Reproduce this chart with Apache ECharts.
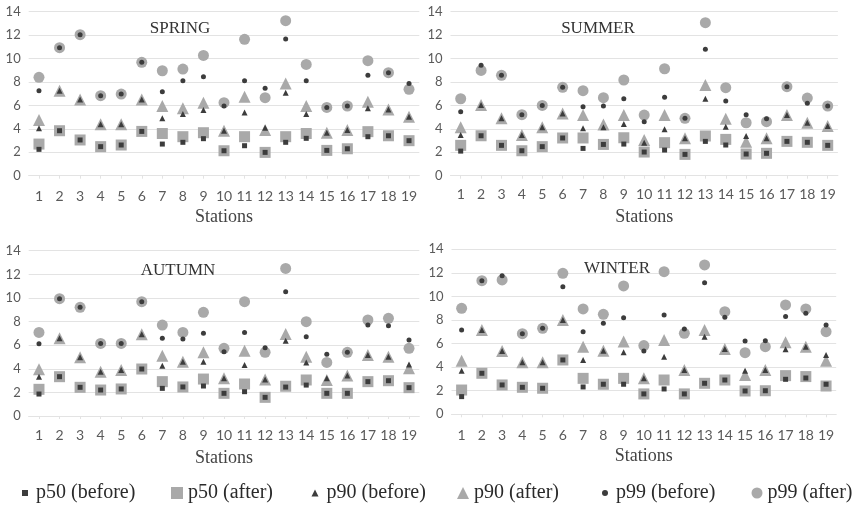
<!DOCTYPE html>
<html><head><meta charset="utf-8">
<script src="https://cdn.jsdelivr.net/npm/echarts@6/dist/echarts.min.js"></script>
<style>html,body{margin:0;padding:0;background:#fff}#c{width:866px;height:507px}</style>
</head><body><div id="c"></div>
<script>
const stations = ['1','2','3','4','5','6','7','8','9','10','11','12','13','14','15','16','17','18','19'];
const seasons = ['SPRING','SUMMER','AUTUMN','WINTER'];
const seriesNames = ['p50 (before)','p50 (after)','p90 (before)','p90 (after)','p99 (before)','p99 (after)'];
const yTicks = [0,2,4,6,8,10,12,14];

const spring_p50_before = [2.25,3.84,3.05,2.48,2.62,3.78,2.7,2.85,3.16,2.13,2.56,1.99,2.85,3.19,2.16,2.3,3.33,3.41,2.99];
const spring_p50_after  = [2.7,3.84,3.05,2.48,2.62,3.78,3.6,3.33,3.67,2.13,3.33,1.99,3.33,3.6,2.16,2.3,3.76,3.41,2.99];
const spring_p90_before = [4.04,7.26,6.5,4.4,4.4,6.5,4.9,5.26,5.6,3.84,5.4,4.1,7.09,5.26,3.67,3.9,5.75,5.66,5.04];
const spring_p90_after  = [4.75,7.26,6.5,4.4,4.4,6.5,5.95,5.75,6.23,3.84,6.74,3.9,7.88,5.95,3.67,3.9,6.32,5.66,5.04];
const spring_p99_before = [7.26,10.93,12.04,6.83,6.97,9.68,7.17,8.1,8.45,5.95,8.1,7.46,11.67,8.1,5.83,5.95,8.57,8.79,7.88];
const spring_p99_after  = [8.4,10.93,12.04,6.83,6.97,9.68,8.96,9.1,10.27,6.23,11.64,6.66,13.23,9.5,5.83,5.95,9.82,8.79,7.37];

const summer_p50_before = [2.1,3.41,2.59,2.13,2.48,3.22,2.33,2.67,2.7,2.02,2.19,1.82,2.93,2.62,1.85,1.91,2.93,2.85,2.59];
const summer_p50_after  = [2.59,3.41,2.59,2.13,2.48,3.22,3.22,2.67,3.24,2.02,2.82,1.82,3.39,3.1,1.85,1.91,2.93,2.85,2.59];
const summer_p90_before = [3.47,6.03,4.9,3.47,4.13,5.32,4.04,4.13,4.41,2.82,3.96,3.19,6.57,4.18,3.39,3.19,5.18,4.52,4.24];
const summer_p90_after  = [4.13,6.03,4.9,3.47,4.13,5.32,5.18,4.38,5.18,3.05,5.18,3.19,7.74,4.87,2.9,3.19,5.18,4.52,4.24];
const summer_p99_before = [5.46,9.42,8.57,5.21,6.0,7.54,5.89,5.95,6.57,4.61,6.69,4.9,10.79,6.37,5.21,4.87,7.6,6.18,5.95];
const summer_p99_after  = [6.57,8.99,8.57,5.21,6.0,7.54,7.26,6.66,8.17,5.18,9.13,4.9,13.06,7.51,4.52,4.61,7.6,6.63,5.95];

const autumn_p50_before = [1.86,3.33,2.43,2.2,2.29,3.98,2.34,2.46,2.54,1.92,2.06,1.58,2.45,2.62,1.92,1.92,2.91,2.99,2.4];
const autumn_p50_after  = [2.26,3.33,2.43,2.2,2.29,3.98,2.91,2.46,3.13,1.92,2.71,1.58,2.52,3.05,1.92,1.92,2.91,2.99,2.4];
const autumn_p90_before = [3.33,6.58,4.97,3.75,3.9,6.92,4.26,4.6,4.6,3.19,4.32,3.1,6.38,4.54,3.2,3.42,5.17,5.02,4.37];
const autumn_p90_after  = [3.95,6.58,4.97,3.75,3.9,6.92,5.11,4.6,5.39,3.19,5.53,3.1,6.94,5.02,3.05,3.42,5.17,5.02,4.04];
const autumn_p99_before = [6.12,9.94,9.2,6.15,6.15,9.68,6.58,6.52,7.0,5.45,7.08,5.79,10.53,6.72,5.22,5.39,7.7,7.65,6.44];
const autumn_p99_after  = [7.08,9.94,9.2,6.15,6.15,9.68,7.7,7.08,8.78,5.73,9.68,5.39,12.5,7.99,4.54,5.39,8.13,8.27,5.73];

const winter_p50_before = [1.5,3.48,2.49,2.29,2.21,4.61,2.32,2.55,2.55,1.73,2.15,1.73,2.63,2.91,1.98,2.0,2.97,3.08,2.55];
const winter_p50_after  = [2.06,3.48,2.49,2.29,2.21,4.61,3.05,2.55,3.05,1.73,2.91,1.73,2.63,2.91,1.98,2.0,3.28,3.2,2.4];
const winter_p90_before = [3.7,7.15,5.37,4.41,4.41,8.0,4.61,5.4,5.26,3.05,4.89,3.76,6.59,5.54,3.7,3.76,5.51,5.74,5.03];
const winter_p90_after  = [4.55,7.15,5.37,4.41,4.41,8.0,5.74,5.4,6.17,3.05,6.31,3.76,7.15,5.54,3.34,3.76,6.11,5.74,4.55];
const winter_p99_before = [7.15,11.34,11.76,6.84,7.3,10.83,7.01,7.72,8.2,5.37,8.43,7.24,11.17,8.23,6.22,6.25,8.29,8.57,7.58];
const winter_p99_after  = [8.99,11.34,11.4,6.84,7.3,11.96,8.94,8.48,10.89,5.83,12.1,6.87,12.67,8.71,5.23,5.74,9.28,8.94,7.01];

const seasonData = [
  [spring_p50_before,spring_p50_after,spring_p90_before,spring_p90_after,spring_p99_before,spring_p99_after],
  [summer_p50_before,summer_p50_after,summer_p90_before,summer_p90_after,summer_p99_before,summer_p99_after],
  [autumn_p50_before,autumn_p50_after,autumn_p90_before,autumn_p90_after,autumn_p99_before,autumn_p99_after],
  [winter_p50_before,winter_p50_after,winter_p90_before,winter_p90_after,winter_p99_before,winter_p99_after]
];

const DARK = '#3c3c3c', GRAY = '#a9a9a9';
const styles = [
  {symbol:'rect', size:5, color:DARK},
  {symbol:'rect', size:11, color:GRAY},
  {symbol:'triangle', size:6, color:DARK},
  {symbol:'triangle', size:12, color:GRAY},
  {symbol:'circle', size:5, color:DARK},
  {symbol:'circle', size:11, color:GRAY}
];

const grids = [
  {left:28.7, width:390.6, top:11.7, height:164},
  {left:450.5, width:387.4, top:11.7, height:164},
  {left:28.7, width:390.6, top:250.7, height:165.3},
  {left:451.5, width:384.7, top:249.3, height:165}
];
const xMargins = [14, 12, 12, 14];
const titlePos = [[175,15],[593,15],[173,257],[612,255]];

const SERIF = '"Liberation Serif","DejaVu Serif",serif';
const SANS = 'Lato,"Open Sans",sans-serif';

const option = {
  animation:false,
  backgroundColor:'#fff',
  title: seasons.map((s,i)=>({text:s, left:titlePos[i][0], top:titlePos[i][1], textAlign:'center',
    textStyle:{fontFamily:SERIF, fontWeight:'normal', fontSize:17, color:'#333'}})),
  grid: grids,
  xAxis: grids.map((g,i)=>({type:'category', gridIndex:i, data:stations, boundaryGap:true,
    name:'Stations', nameLocation:'middle', nameGap:33,
    nameTextStyle:{fontFamily:SERIF, fontSize:18, color:'#444'},
    axisLine:{show:true, lineStyle:{color:'#e3e3e3'}},
    axisTick:{show:true, alignWithLabel:true, length:3, lineStyle:{color:'#e3e3e3'}},
    axisLabel:{fontFamily:SANS, fontSize:14, color:'#5a5a5a', margin:xMargins[i], interval:0},
    splitLine:{show:false}})),
  yAxis: grids.map((g,i)=>({type:'value', gridIndex:i, min:yTicks[0], max:yTicks[yTicks.length-1], interval:2,
    axisLine:{show:false}, axisTick:{show:false},
    axisLabel:{fontFamily:SANS, fontSize:13, color:'#5a5a5a', margin:8},
    splitLine:{lineStyle:{color:'#e3e3e3', width:1}}})),
  legend: seriesNames.map((n,k)=>{
    const lx = [25,177,315,463,605,757][k];
    const sz = [6,12,7,12,6,11][k];
    return {data:[n], left:lx - sz/2, top:482, padding:0, itemWidth:sz, itemHeight:sz, itemGap:0,
      textStyle:{fontFamily:SERIF, fontSize:20, lineHeight:22, color:'#2a2a2a', padding:[0,0,0, (k%2===0)?3:0]},
      selectedMode:false};
  }),
  series: []
};

// draw "after" series first so "before" markers sit on top
const order = [1,3,5,0,2,4];
for (let g=0; g<4; g++) {
  for (const k of order) {
    option.series.push({
      name: seriesNames[k], type:'scatter', xAxisIndex:g, yAxisIndex:g,
      data: seasonData[g][k], symbol: styles[k].symbol, symbolSize: styles[k].size,
      itemStyle:{color:styles[k].color, opacity:1}, emphasis:{disabled:true}
    });
  }
}

const chart = echarts.init(document.getElementById('c'), null, {renderer:'canvas'});
chart.setOption(option);
</script></body></html>
